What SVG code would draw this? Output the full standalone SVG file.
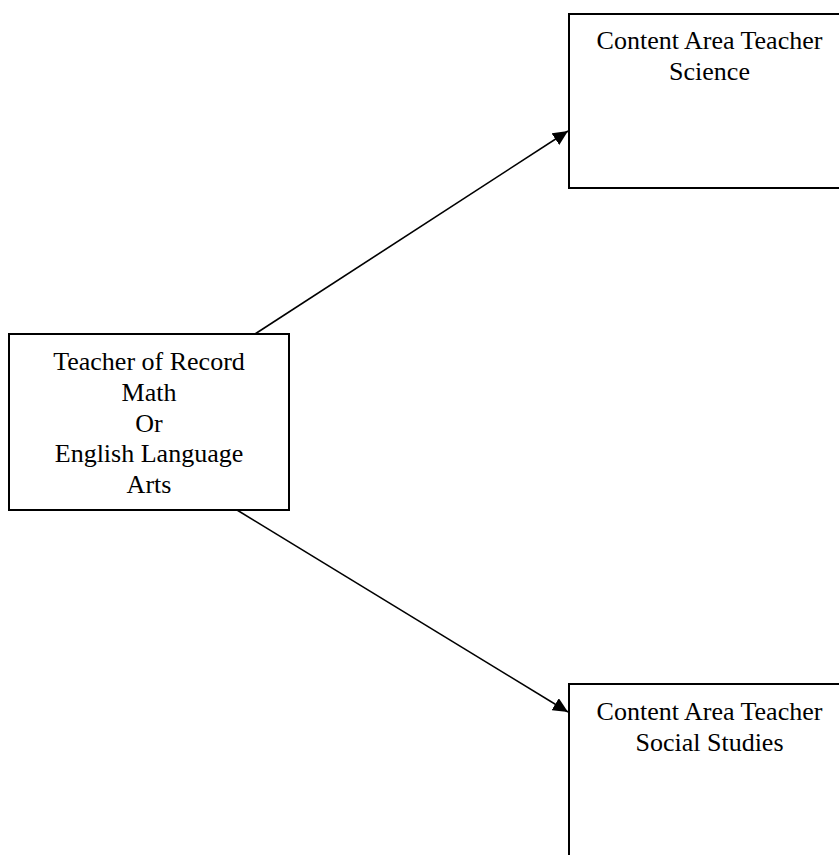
<svg xmlns="http://www.w3.org/2000/svg" width="839" height="855" viewBox="0 0 839 855">
<style>
.box{fill:#fff;stroke:#000;stroke-width:2}
.lbl{font-family:"Liberation Serif","Times New Roman",serif;font-size:26px;fill:#000;text-anchor:middle}
.conn{stroke:#000;stroke-width:1.6;fill:none;marker-end:url(#ah)}
</style>
<defs>
<marker id="ah" markerUnits="userSpaceOnUse" markerWidth="16" markerHeight="14" refX="15" refY="7" orient="auto">
<path d="M0,0 L15,7 L0,14 z" fill="#000"/>
</marker>
</defs>
<rect width="839" height="855" fill="#fff"/>
<g id="connectors">
<line class="conn" x1="255" y1="334" x2="568" y2="131"/>
<line class="conn" x1="237" y1="510" x2="568" y2="712"/>
</g>
<g id="node-record">
<rect class="box" x="9" y="334" width="280" height="176"/>
<text class="lbl" x="149" y="370">Teacher of Record</text>
<text class="lbl" x="149" y="401">Math</text>
<text class="lbl" x="149" y="432">Or</text>
<text class="lbl" x="149" y="462">English Language</text>
<text class="lbl" x="149" y="493">Arts</text>
</g>
<g id="node-science">
<rect class="box" x="569" y="14" width="281" height="174"/>
<text class="lbl" x="709.5" y="49">Content Area Teacher</text>
<text class="lbl" x="709.5" y="80">Science</text>
</g>
<g id="node-social">
<rect class="box" x="569" y="684" width="281" height="200"/>
<text class="lbl" x="709.5" y="720">Content Area Teacher</text>
<text class="lbl" x="709.5" y="751">Social Studies</text>
</g>
</svg>
